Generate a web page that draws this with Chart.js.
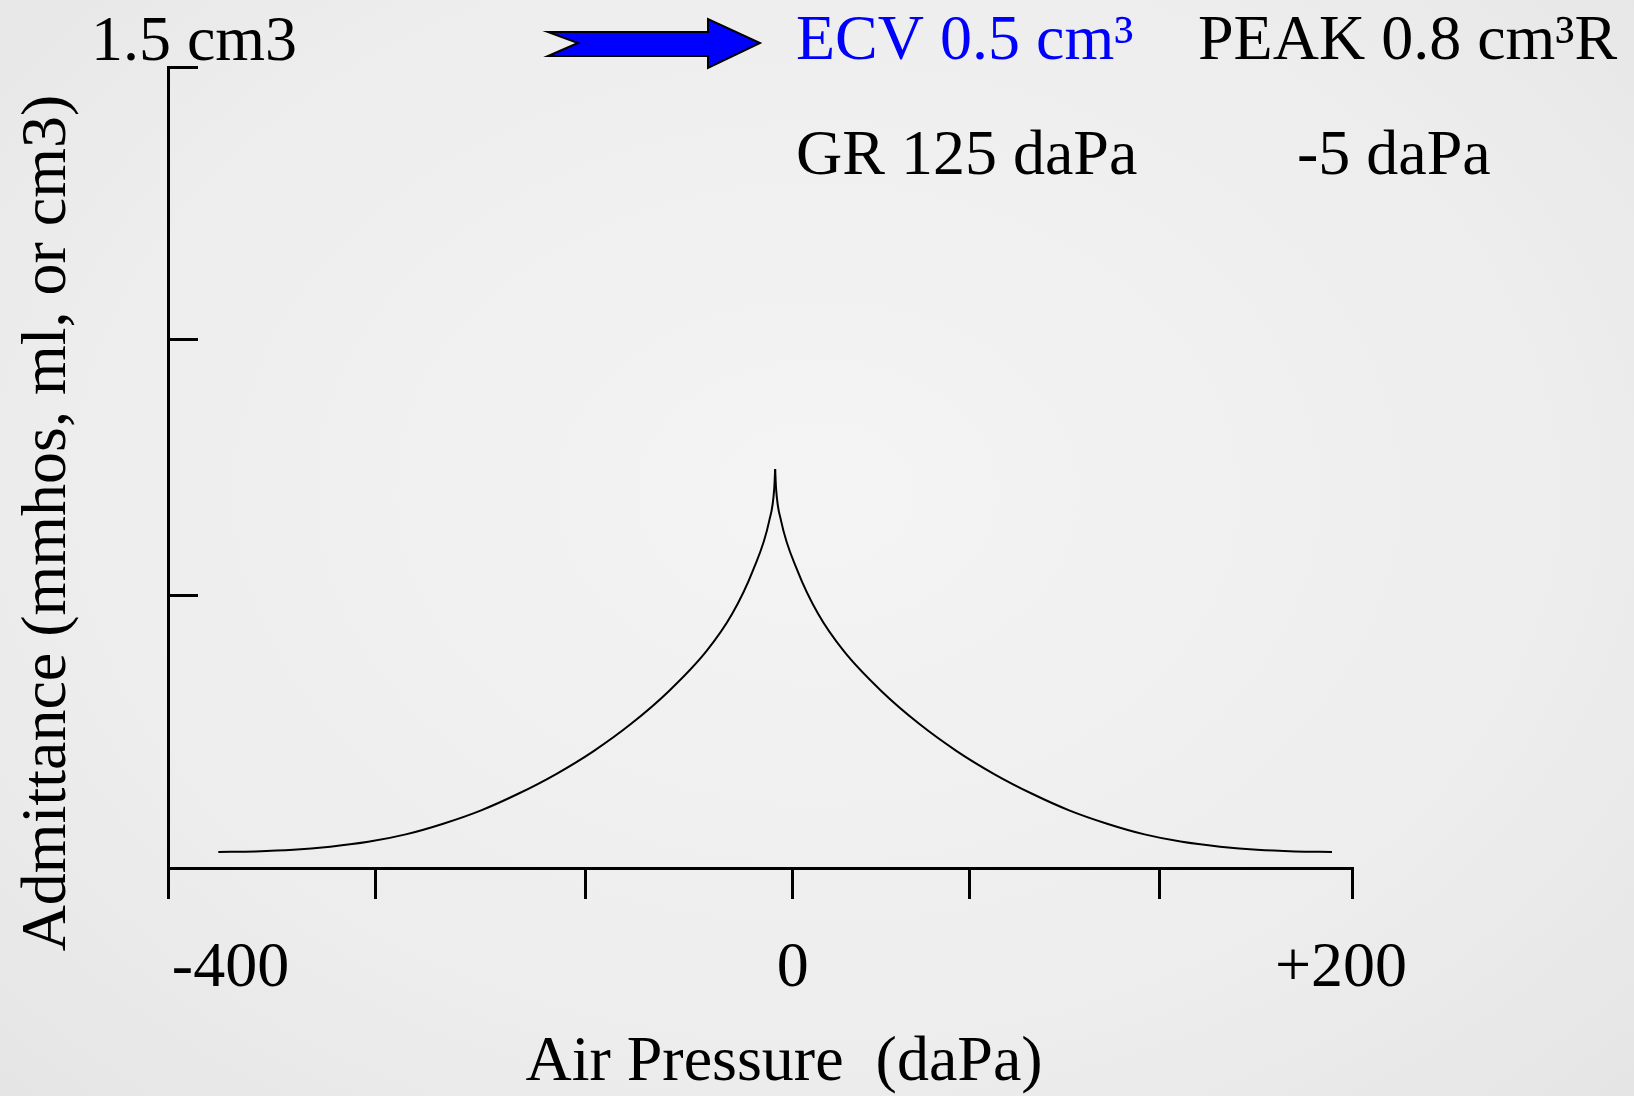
<!DOCTYPE html>
<html>
<head>
<meta charset="utf-8">
<script src="https://cdn.jsdelivr.net/npm/chart.js@4.4.0/dist/chart.umd.min.js"></script>
<style>
  html, body { margin: 0; padding: 0; }
  body {
    width: 1634px; height: 1096px; overflow: hidden;
    background: radial-gradient(ellipse at 50% 45%, #f4f4f4 0%, #ededed 65%, #e5e5e5 100%);
  }
  canvas { display: block; }
</style>
</head>
<body>
<canvas id="tymp" width="1634" height="1096"></canvas>
<script>
// tympanogram (x in axis units, peak near -5 daPa)
const pressure = [-367.8, -344.1, -319.8, -296.1, -271.8, -247.8, -223.8, -199.5, -175.8, -151.5, -127.5, -103.5, -79.4, -55.3, -38.8, -25.7, -15.1, -11.9,
    -11.3,
    -10.7, -7.5, 3.1, 16.2, 32.7, 56.8, 80.9, 104.9, 128.9, 153.2, 176.9, 201.2, 225.2, 249.2, 273.5, 297.2, 321.5, 345.2];
const admittance = [0.030, 0.031, 0.034, 0.040, 0.049, 0.063, 0.083, 0.108, 0.139, 0.176, 0.219, 0.270, 0.331, 0.406, 0.476, 0.556, 0.650, 0.710,
    0.747,
    0.710, 0.650, 0.556, 0.476, 0.406, 0.331, 0.270, 0.219, 0.176, 0.139, 0.108, 0.083, 0.063, 0.049, 0.040, 0.034, 0.031, 0.030];
const peakIndex = 18;

const xTickMarks = [-400, -267, -133, 0, 113, 235, 358];
const xLabelValues = [-360, 0, 351];
const xLabelTexts = ['-400', '0', '+200'];
const yTickMarks = [0.51, 0.99, 1.5];

const SERIF = "'Liberation Serif', 'Times New Roman', serif";

const toPoints = (xs, ys) => xs.map((x, i) => ({ x: x, y: ys[i] }));
const leftHalf = toPoints(pressure.slice(0, peakIndex + 1), admittance.slice(0, peakIndex + 1));
const rightHalf = toPoints(pressure.slice(peakIndex), admittance.slice(peakIndex));

// texts and arrow of the slide
const slideText = {
    id: 'slideText',
    afterDraw(chart) {
        const ctx = chart.ctx;
        const y = chart.scales.y;
        ctx.save();
        ctx.textBaseline = 'alphabetic';
        ctx.font = '64px ' + SERIF;
        ctx.fillStyle = '#000';
        ctx.textAlign = 'center';
        ctx.fillText('1.5 cm3', 194, y.getPixelForValue(1.5) - 7);

        ctx.textAlign = 'left';
        ctx.fillStyle = '#0000ff';
        ctx.fillText('ECV 0.5 cm³', 796, 59);
        ctx.fillStyle = '#000';
        ctx.fillText('PEAK 0.8 cm³R', 1198, 59);
        ctx.fillText('GR 125 daPa', 796, 174);
        ctx.fillText('-5 daPa', 1297, 174);

        // blue block arrow
        ctx.beginPath();
        ctx.moveTo(548, 32);
        ctx.lineTo(708, 32);
        ctx.lineTo(708, 19);
        ctx.lineTo(760, 43);
        ctx.lineTo(708, 68);
        ctx.lineTo(708, 56);
        ctx.lineTo(548, 56);
        ctx.lineTo(578, 43);
        ctx.closePath();
        ctx.fillStyle = '#0000ff';
        ctx.fill();
        ctx.lineWidth = 2;
        ctx.strokeStyle = '#000';
        ctx.stroke();

        // axis titles
        ctx.fillStyle = '#000';
        ctx.textAlign = 'center';
        ctx.fillText('Air Pressure  (daPa)', 784, 1080);
        ctx.translate(65, 523);
        ctx.rotate(-Math.PI / 2);
        ctx.fillText('Admittance (mmhos, ml, or cm3)', 0, 0);
        ctx.restore();
    }
};

const chart = new Chart(document.getElementById('tymp').getContext('2d'), {
    type: 'line',
    data: {
        datasets: [{
            data: leftHalf,
            borderColor: '#000',
            borderWidth: 2,
            pointRadius: 0,
            cubicInterpolationMode: 'monotone'
        }, {
            data: rightHalf,
            borderColor: '#000',
            borderWidth: 2,
            pointRadius: 0,
            cubicInterpolationMode: 'monotone'
        }]
    },
    options: {
        responsive: false,
        devicePixelRatio: 1,
        animation: false,
        layout: { padding: { left: 168, top: 67, right: 282, bottom: 0 } },
        plugins: { legend: { display: false }, tooltip: { enabled: false } },
        scales: {
            x: {
                type: 'linear',
                min: -400,
                max: 358,
                afterFit(scale) { scale.height = 228; },
                afterBuildTicks(scale) {
                    const values = xTickMarks.concat(xLabelValues.filter(v => !xTickMarks.includes(v)));
                    scale.ticks = values.sort((a, b) => a - b).map(v => ({ value: v }));
                },
                ticks: {
                    autoSkip: false,
                    maxRotation: 0,
                    padding: 32,
                    color: '#000',
                    font: { family: SERIF, size: 64 },
                    callback(value) {
                        const i = xLabelValues.indexOf(value);
                        return i >= 0 ? xLabelTexts[i] : '';
                    }
                },
                grid: {
                    drawOnChartArea: false,
                    tickLength: 31,
                    tickWidth: 3,
                    lineWidth: 3,
                    tickColor(ctx) {
                        return ctx.tick && xTickMarks.includes(ctx.tick.value) ? '#000' : 'rgba(0,0,0,0)';
                    }
                },
                border: { display: true, color: '#000', width: 3 }
            },
            y: {
                type: 'linear',
                min: 0,
                max: 1.5,
                afterFit(scale) { scale.width = 0; },
                afterBuildTicks(scale) {
                    scale.ticks = yTickMarks.map(v => ({ value: v }));
                },
                ticks: { display: false },
                grid: {
                    drawOnChartArea: false,
                    tickLength: -30,
                    tickWidth: 3,
                    lineWidth: 3,
                    tickColor: '#000'
                },
                border: { display: true, color: '#000', width: 3 }
            }
        }
    },
    plugins: [slideText]
});
</script>
</body>
</html>
